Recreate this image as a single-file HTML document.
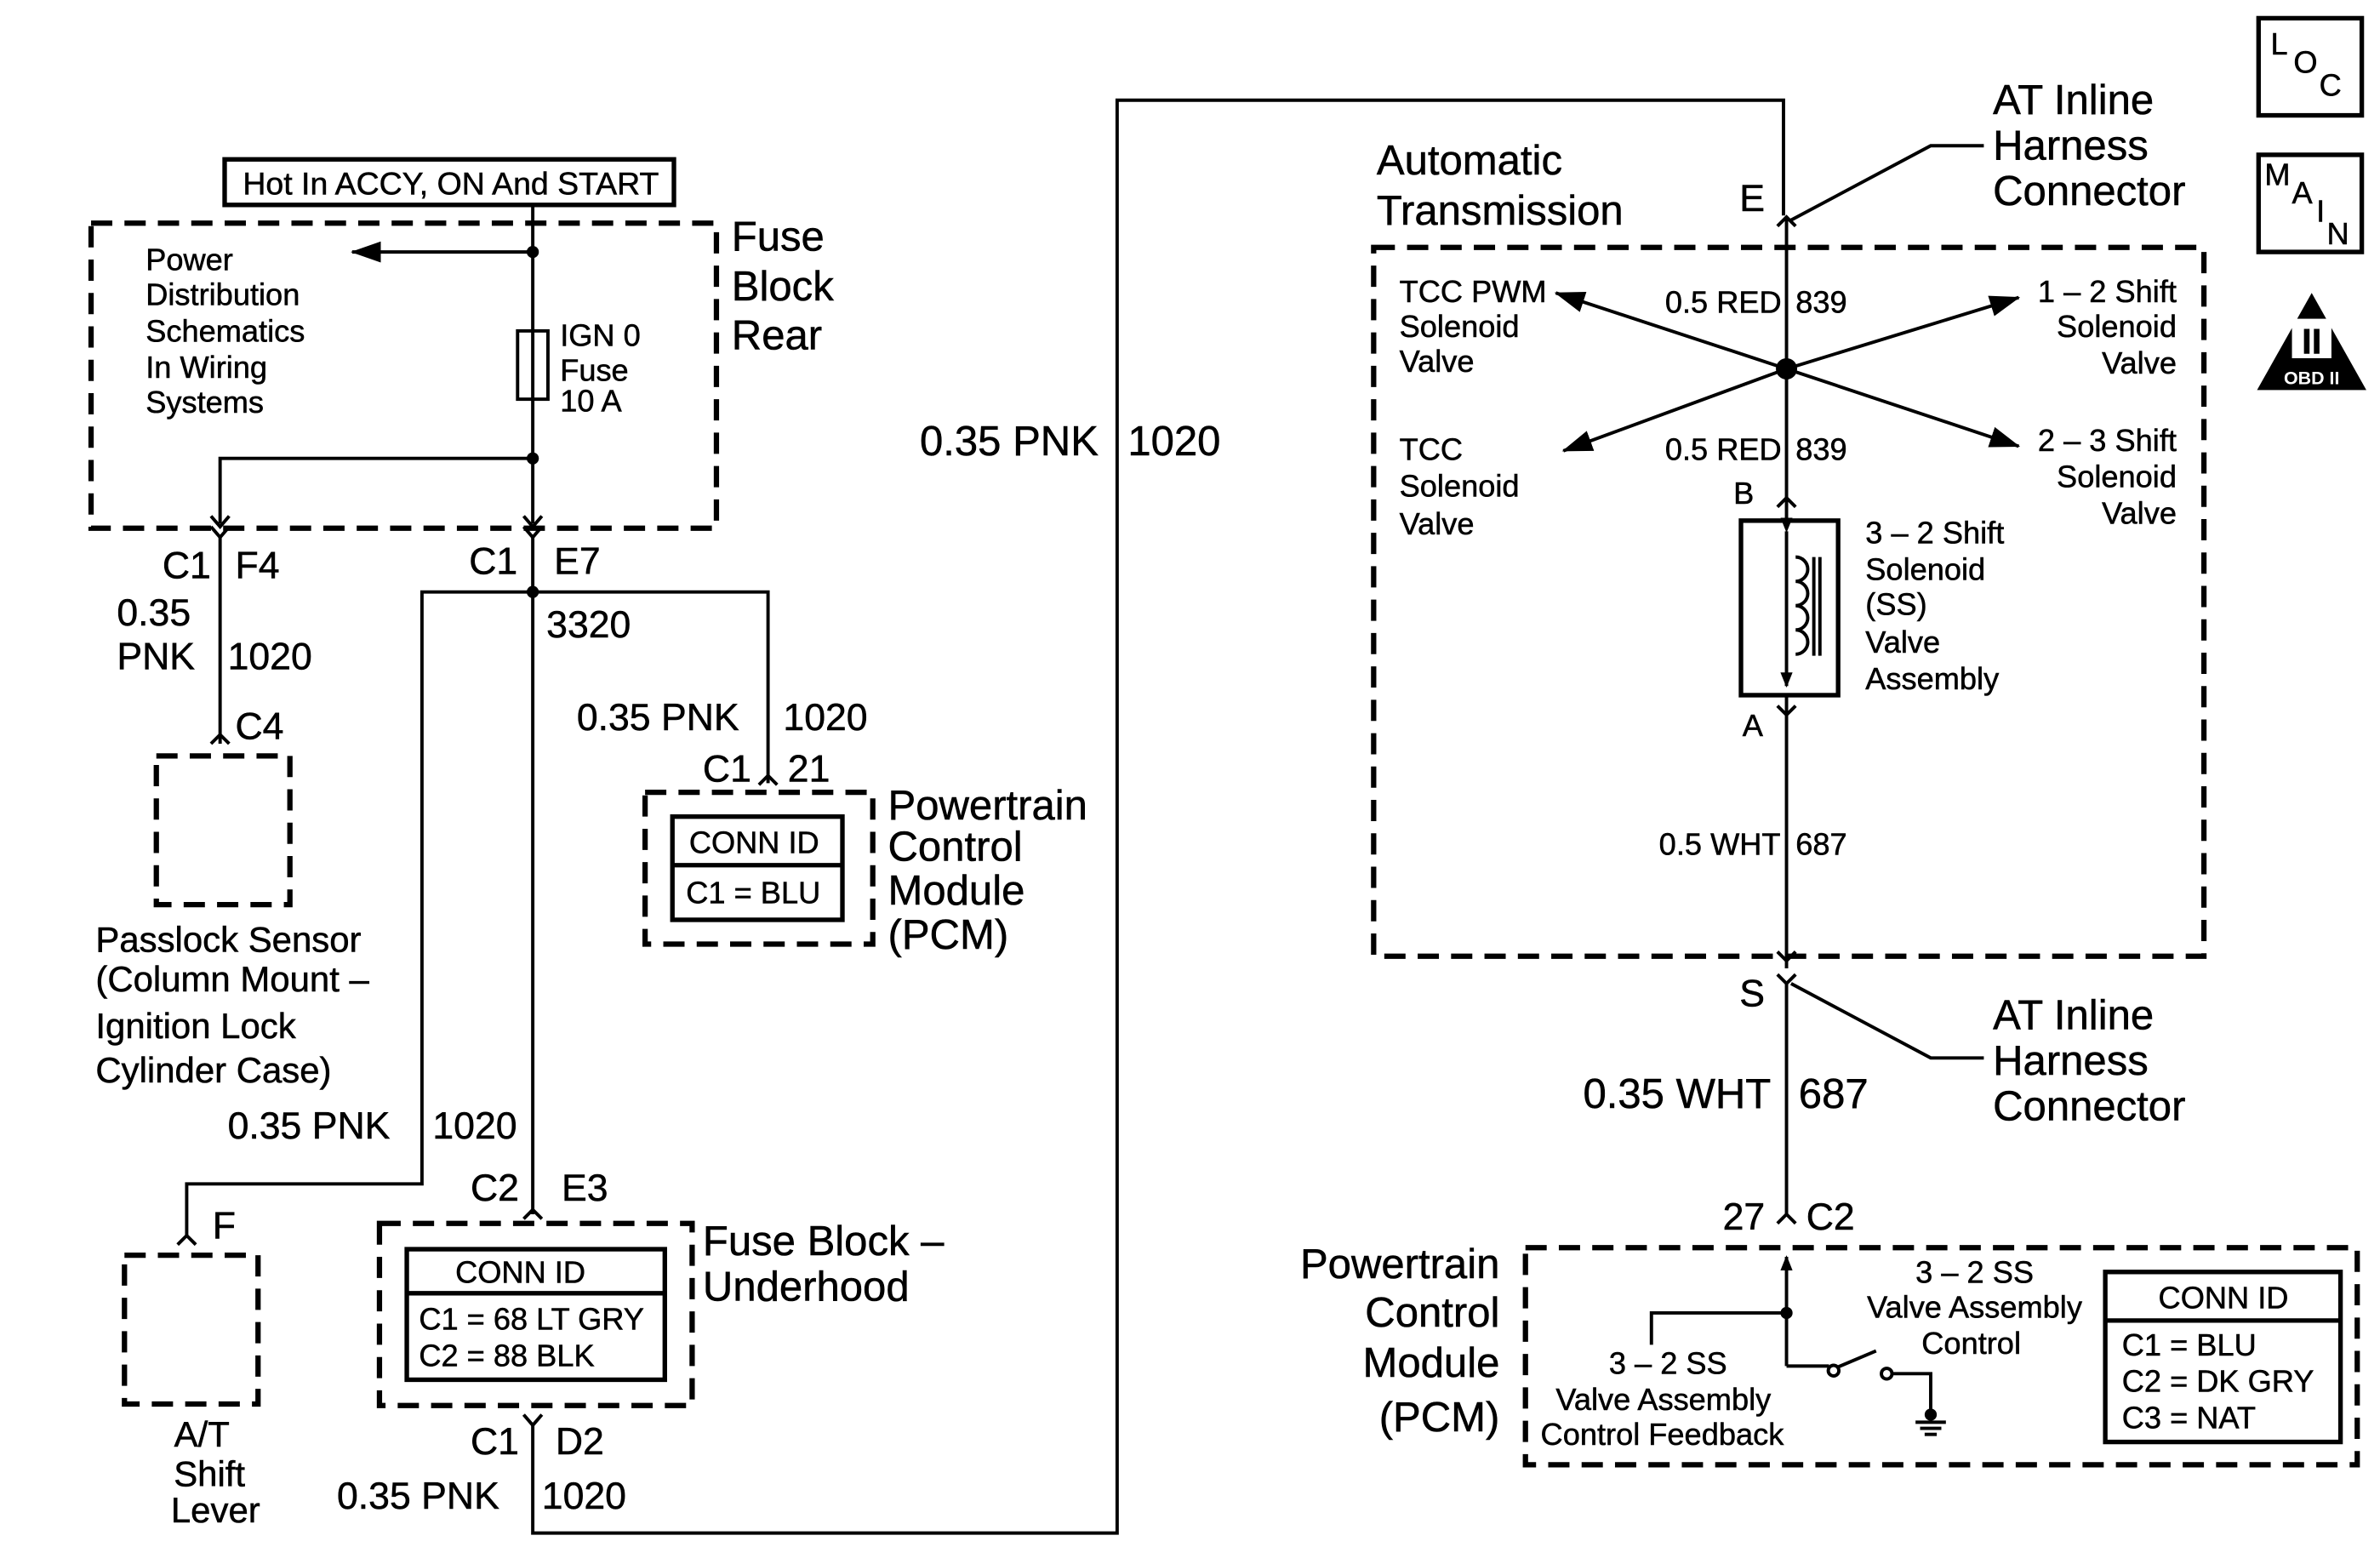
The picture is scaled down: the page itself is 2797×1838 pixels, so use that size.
<!DOCTYPE html>
<html><head><meta charset="utf-8"><style>
html,body{margin:0;padding:0;background:#fff;}
svg{display:block;}
text{font-family:"Liberation Sans",Arial,sans-serif;fill:#000;stroke:#000;stroke-width:0.3;}
.b{font-size:27.5px;}
.m{font-size:23.5px;}
.s{font-size:20.3px;}
.d{fill:none;stroke:#000;stroke-width:3.5;stroke-dasharray:14 8;}
.l{fill:none;stroke:#000;stroke-width:2.2;}
.t{fill:none;stroke:#000;stroke-width:3;}
</style></head><body>
<svg width="2797" height="1838" viewBox="0 0 1568 1030.4" preserveAspectRatio="none" xmlns="http://www.w3.org/2000/svg">
<defs>
<marker id="ah" markerWidth="10" markerHeight="8" refX="9" refY="4" orient="auto" markerUnits="userSpaceOnUse"><path d="M0,0 L10,4 L0,8 z" fill="#000"/></marker>
<marker id="ah2" markerWidth="20" markerHeight="14" refX="19" refY="7" orient="auto" markerUnits="userSpaceOnUse"><path d="M0,0 L20,7 L0,14 z" fill="#000"/></marker>
</defs>

<rect x="148" y="105" width="296" height="30" class="t"/>
<text x="160" y="128" class="s" style="font-size:21px">Hot In ACCY, ON And START</text>
<rect x="60" y="147" width="412" height="201" class="d"/>
<line x1="351" y1="135" x2="351" y2="345" class="l"/>
<circle cx="351" cy="166" r="4"/>
<line x1="351" y1="166" x2="232" y2="166" class="l" marker-end="url(#ah2)"/>
<rect x="341" y="218" width="20" height="45" class="l" fill="#fff"/>
<circle cx="351" cy="302" r="4"/>
<polyline points="351,302 145,302 145,345" class="l"/>
<text x="96" y="178" class="s">Power</text>
<text x="96" y="201" class="s">Distribution</text>
<text x="96" y="225" class="s">Schematics</text>
<text x="96" y="249" class="s">In Wiring</text>
<text x="96" y="272" class="s">Systems</text>
<text x="369" y="228" class="s">IGN 0</text>
<text x="369" y="251" class="s">Fuse</text>
<text x="369" y="271" class="s">10 A</text>
<text x="482" y="165" class="b">Fuse</text>
<text x="482" y="198" class="b">Block</text>
<text x="482" y="230" class="b">Rear</text>

<g class="l">
<polyline points="139,340 145,347 151,340"/><polyline points="139,347 145,354 151,347"/>
<polyline points="345,340 351,347 357,340"/><polyline points="345,347 351,354 357,347"/>
</g>
<text x="107" y="381" class="m" style="font-size:25px">C1</text>
<text x="155" y="381" class="m" style="font-size:25px">F4</text>
<text x="77" y="412" class="m" style="font-size:25px">0.35</text>
<text x="77" y="441" class="m" style="font-size:25px">PNK</text>
<text x="150" y="441" class="m" style="font-size:25px">1020</text>
<line x1="145" y1="354" x2="145" y2="490" class="l"/>
<polyline points="139,490 145,484 151,490" class="l"/>
<text x="155" y="487" class="m" style="font-size:25px">C4</text>
<rect x="103" y="498" width="88" height="98" class="d"/>
<text x="63" y="627" class="m">Passlock Sensor</text>
<text x="63" y="653" class="m">(Column Mount –</text>
<text x="63" y="684" class="m">Ignition Lock</text>
<text x="63" y="713" class="m">Cylinder Case)</text>

<text x="309" y="378" class="m" style="font-size:25px">C1</text>
<text x="365" y="378" class="m" style="font-size:25px">E7</text>
<circle cx="351" cy="390" r="4"/>
<line x1="351" y1="354" x2="351" y2="800" class="l"/>
<polyline points="351,390 278,390 278,780 123,780 123,815" class="l"/>
<polyline points="351,390 506,390 506,516" class="l"/>
<text x="360" y="420" class="m" style="font-size:25px">3320</text>
<text x="380" y="481" class="m" style="font-size:25px">0.35 PNK</text>
<text x="516" y="481" class="m" style="font-size:25px">1020</text>
<polyline points="500,517 506,511 512,517" class="l"/>
<text x="463" y="515" class="m" style="font-size:25px">C1</text>
<text x="519" y="515" class="m" style="font-size:25px">21</text>
<rect x="425" y="522" width="150" height="100" class="d"/>
<rect x="443" y="538" width="112" height="68" class="t"/>
<line x1="443" y1="570" x2="555" y2="570" class="t"/>
<text x="454" y="562" class="s">CONN ID</text>
<text x="452" y="595" class="s">C1 = BLU</text>
<text x="585" y="540" class="b">Powertrain</text>
<text x="585" y="567" class="b">Control</text>
<text x="585" y="596" class="b">Module</text>
<text x="585" y="625" class="b">(PCM)</text>

<text x="150" y="750" class="m" style="font-size:25px">0.35 PNK</text>
<text x="285" y="750" class="m" style="font-size:25px">1020</text>
<text x="310" y="791" class="m" style="font-size:25px">C2</text>
<text x="370" y="791" class="m" style="font-size:25px">E3</text>
<polyline points="345,803 351,797 357,803" class="l"/>
<rect x="250" y="806" width="206" height="120" class="d"/>
<rect x="268" y="823" width="170" height="86" class="t"/>
<line x1="268" y1="852" x2="438" y2="852" class="t"/>
<text x="300" y="845" class="s">CONN ID</text>
<text x="276" y="876" class="s">C1 = 68 LT GRY</text>
<text x="276" y="900" class="s">C2 = 88 BLK</text>
<text x="463" y="827" class="b">Fuse Block –</text>
<text x="463" y="857" class="b">Underhood</text>
<polyline points="345,932 351,939 357,932" class="l"/>
<text x="310" y="958" class="m" style="font-size:25px">C1</text>
<text x="366" y="958" class="m" style="font-size:25px">D2</text>
<polyline points="351,939 351,1010 736,1010 736,66 1175,66 1175,142" class="l"/>
<text x="222" y="994" class="m" style="font-size:25px">0.35 PNK</text>
<text x="357" y="994" class="m" style="font-size:25px">1020</text>

<polyline points="117,820 123,814 129,820" class="l"/>
<text x="140" y="816" class="m" style="font-size:25px">F</text>
<rect x="82" y="827" width="88" height="98" class="d"/>
<text x="133" y="953" class="m" text-anchor="middle">A/T</text>
<text x="138" y="979" class="m" text-anchor="middle">Shift</text>
<text x="142" y="1003" class="m" text-anchor="middle">Lever</text>

<text x="606" y="300" class="b">0.35 PNK</text>
<text x="743" y="300" class="b">1020</text>

<text x="907" y="115" class="b">Automatic</text>
<text x="907" y="148" class="b">Transmission</text>
<text x="1146" y="139" class="m" style="font-size:25px">E</text>
<polyline points="1171,149 1177,143 1183,149" class="l"/>
<polyline points="1180,145 1272,96 1307,96" class="l"/>
<text x="1313" y="75" class="b">AT Inline</text>
<text x="1313" y="105" class="b">Harness</text>
<text x="1313" y="135" class="b">Connector</text>
<rect x="905" y="163" width="547" height="467" class="d"/>
<line x1="1177" y1="143" x2="1177" y2="330" class="l"/>
<circle cx="1177" cy="243" r="7"/>
<g class="l">
<line x1="1177" y1="243" x2="1025" y2="193" marker-end="url(#ah2)"/>
<line x1="1177" y1="243" x2="1330" y2="196" marker-end="url(#ah2)"/>
<line x1="1177" y1="243" x2="1030" y2="297" marker-end="url(#ah2)"/>
<line x1="1177" y1="243" x2="1330" y2="294" marker-end="url(#ah2)"/>
</g>
<rect x="1095" y="187" width="78" height="24" fill="#fff"/>
<rect x="1095" y="284" width="78" height="24" fill="#fff"/>
<text x="1097" y="206" class="s">0.5 RED</text>
<text x="1183" y="206" class="s">839</text>
<text x="1097" y="303" class="s">0.5 RED</text>
<text x="1183" y="303" class="s">839</text>
<text x="922" y="199" class="s">TCC PWM</text>
<text x="922" y="222" class="s">Solenoid</text>
<text x="922" y="245" class="s">Valve</text>
<text x="922" y="303" class="s">TCC</text>
<text x="922" y="327" class="s">Solenoid</text>
<text x="922" y="352" class="s">Valve</text>
<text x="1434" y="199" class="s" text-anchor="end">1 – 2 Shift</text>
<text x="1434" y="222" class="s" text-anchor="end">Solenoid</text>
<text x="1434" y="246" class="s" text-anchor="end">Valve</text>
<text x="1434" y="297" class="s" text-anchor="end">2 – 3 Shift</text>
<text x="1434" y="321" class="s" text-anchor="end">Solenoid</text>
<text x="1434" y="345" class="s" text-anchor="end">Valve</text>
<text x="1142" y="332" class="s">B</text>
<polyline points="1171,334 1177,328 1183,334" class="l"/>
<line x1="1177" y1="328" x2="1177" y2="343" class="l"/>
<rect x="1147" y="343" width="64" height="115" class="t"/>
<line x1="1177" y1="350" x2="1177" y2="452" class="l" marker-start="url(#ah)" marker-end="url(#ah)"/>
<path d="M1183,367 a8,8 0 0 1 0,16 a8,8 0 0 1 0,16 a8,8 0 0 1 0,16 a8,8 0 0 1 0,16" class="l"/>
<line x1="1195" y1="367" x2="1195" y2="432" class="l"/>
<line x1="1199" y1="367" x2="1199" y2="432" class="l"/>
<line x1="1177" y1="458" x2="1177" y2="638" class="l"/>
<polyline points="1171,465 1177,471 1183,465" class="l"/>
<text x="1148" y="485" class="s">A</text>
<text x="1229" y="358" class="s">3 – 2 Shift</text>
<text x="1229" y="382" class="s">Solenoid</text>
<text x="1229" y="405" class="s">(SS)</text>
<text x="1229" y="430" class="s">Valve</text>
<text x="1229" y="454" class="s">Assembly</text>
<text x="1093" y="563" class="s">0.5 WHT</text>
<text x="1183" y="563" class="s">687</text>
<polyline points="1171,627 1177,633 1183,627" class="l"/>
<polyline points="1171,642 1177,648 1183,642" class="l"/>
<text x="1146" y="663" class="m" style="font-size:25px">S</text>
<polyline points="1180,648 1272,697 1307,697" class="l"/>
<text x="1313" y="678" class="b">AT Inline</text>
<text x="1313" y="708" class="b">Harness</text>
<text x="1313" y="738" class="b">Connector</text>
<line x1="1177" y1="648" x2="1177" y2="800" class="l"/>
<text x="1043" y="730" class="b">0.35 WHT</text>
<text x="1185" y="730" class="b">687</text>
<polyline points="1171,806 1177,800 1183,806" class="l"/>
<text x="1135" y="810" class="m" style="font-size:25px">27</text>
<text x="1190" y="810" class="m" style="font-size:25px">C2</text>
<rect x="1005" y="822" width="548" height="143" class="d"/>
<text x="988" y="842" class="b" text-anchor="end">Powertrain</text>
<text x="988" y="874" class="b" text-anchor="end">Control</text>
<text x="988" y="907" class="b" text-anchor="end">Module</text>
<text x="988" y="943" class="b" text-anchor="end">(PCM)</text>
<line x1="1177" y1="900" x2="1177" y2="828" class="l" marker-end="url(#ah)"/>
<circle cx="1177" cy="865" r="4"/>
<polyline points="1177,865 1088,865 1088,886" class="l"/>
<polyline points="1177,900 1205,900" class="l"/>
<circle cx="1208" cy="903" r="3.5" class="l"/>
<line x1="1210" y1="901" x2="1236" y2="890" class="l"/>
<circle cx="1243" cy="905" r="3.5" class="l"/>
<polyline points="1246,905 1272,905 1272,930" class="l"/>
<circle cx="1272" cy="932" r="4"/>
<line x1="1262" y1="937" x2="1282" y2="937" class="l"/>
<line x1="1265" y1="941" x2="1279" y2="941" class="l"/>
<line x1="1268" y1="945" x2="1276" y2="945" class="l"/>
<text x="1060" y="905" class="s">3 – 2 SS</text>
<text x="1025" y="929" class="s">Valve Assembly</text>
<text x="1015" y="952" class="s">Control Feedback</text>
<text x="1262" y="845" class="s">3 – 2 SS</text>
<text x="1230" y="868" class="s">Valve Assembly</text>
<text x="1266" y="892" class="s">Control</text>
<rect x="1387" y="838" width="155" height="112" class="t"/>
<line x1="1387" y1="870" x2="1542" y2="870" class="t"/>
<text x="1422" y="862" class="s">CONN ID</text>
<text x="1398" y="893" class="s">C1 = BLU</text>
<text x="1398" y="917" class="s">C2 = DK GRY</text>
<text x="1398" y="941" class="s">C3 = NAT</text>

<rect x="1488" y="12" width="68" height="64" class="t"/>
<text x="1496" y="36" class="s">L</text>
<text x="1511" y="48" class="s">O</text>
<text x="1528" y="63" class="s">C</text>
<rect x="1488" y="102" width="68" height="64" class="t"/>
<text x="1492" y="122" class="s">M</text>
<text x="1510" y="134" class="s">A</text>
<text x="1526" y="146" class="s">I</text>
<text x="1533" y="161" class="s">N</text>
<path d="M1523,193 L1559,257 L1487,257 z"/>
<rect x="1510" y="210" width="26" height="26" fill="#fff"/>
<text x="1523" y="233" class="m" text-anchor="middle" style="font-weight:bold">II</text>
<text x="1523" y="253" text-anchor="middle" style="font-size:12px;font-weight:bold;fill:#fff;stroke:none">OBD II</text>
</svg>
</body></html>
